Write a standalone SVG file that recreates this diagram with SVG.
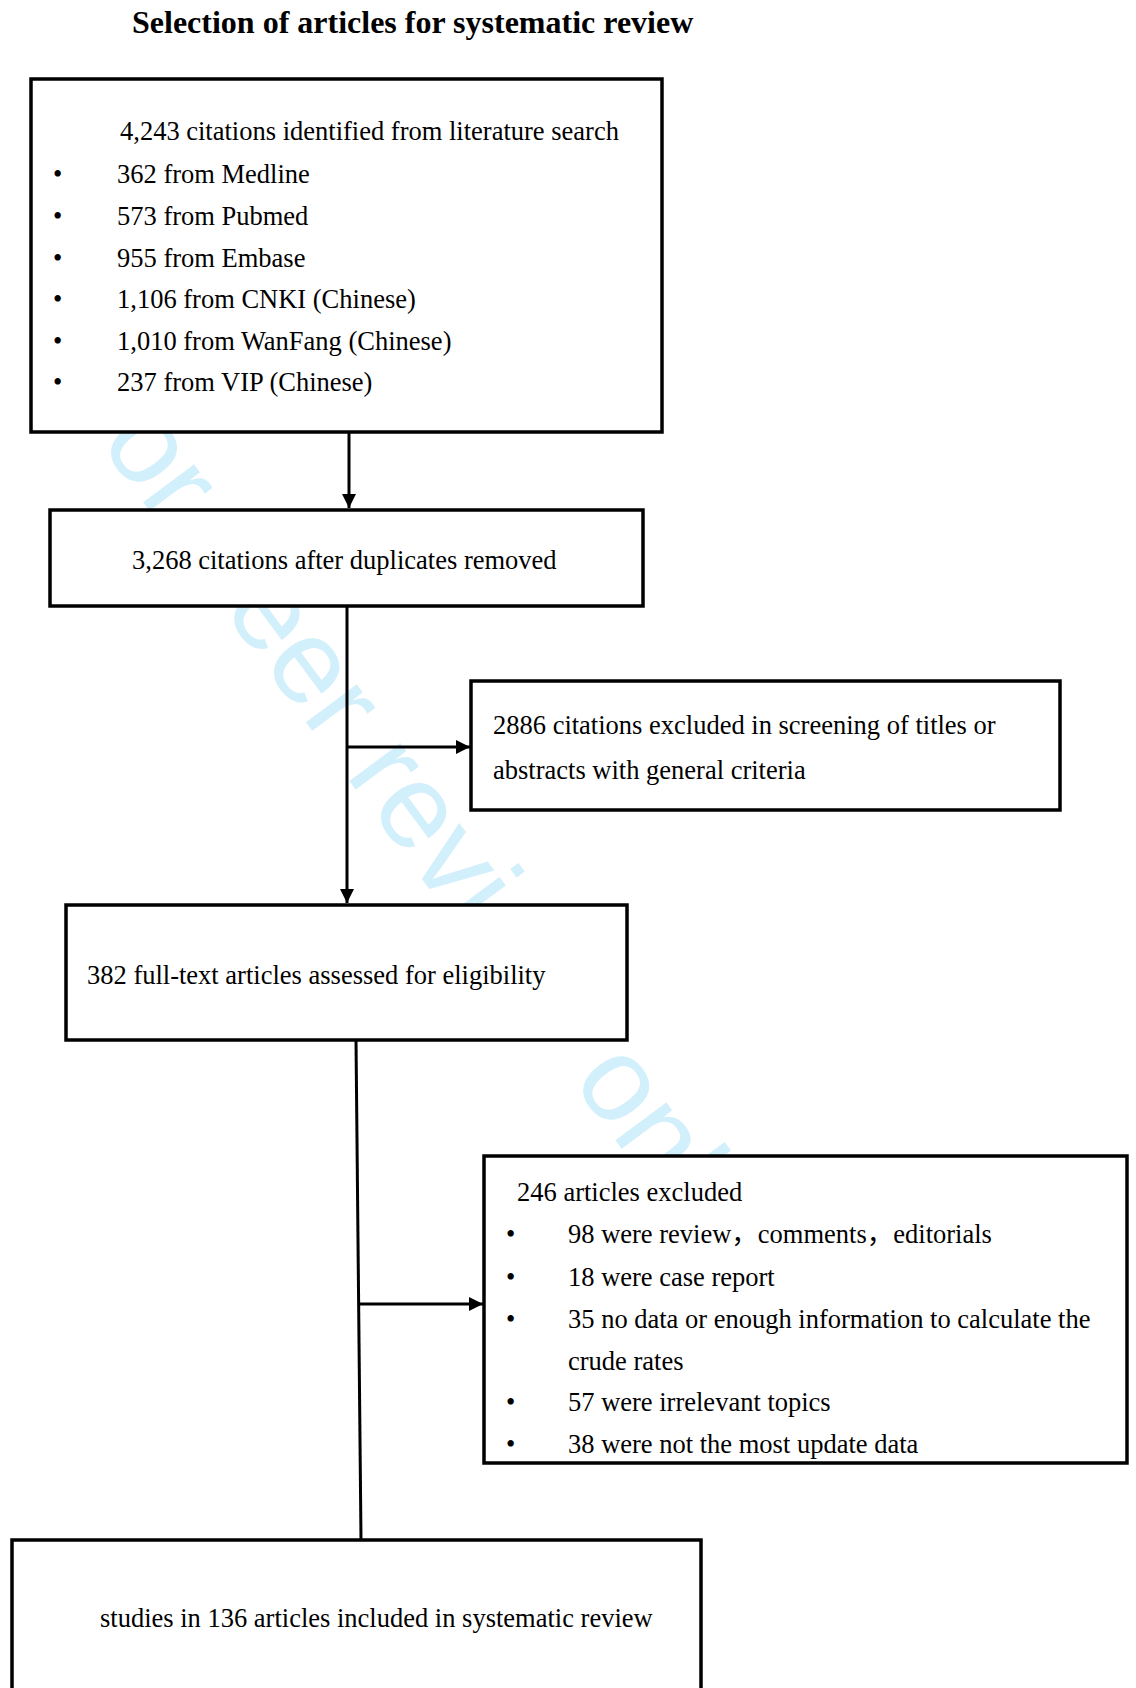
<svg xmlns="http://www.w3.org/2000/svg" width="1136" height="1688" viewBox="0 0 1136 1688">
  <style>
    .box { fill: #ffffff; stroke: #000000; stroke-width: 3.5; }
    .t { font-family: "Liberation Serif", "Noto Sans CJK SC", serif; font-size: 26.5px; fill: #000000; }
    .title { font-family: "Liberation Serif", serif; font-size: 32px; font-weight: bold; fill: #000000; }
    .conn { fill: none; stroke: #000000; stroke-width: 3; }
    .wm { font-family: "Liberation Sans", Arial, sans-serif; font-size: 120px; fill: #d2effc; }
  </style>
  <defs>
    <marker id="arrow" markerUnits="userSpaceOnUse" markerWidth="15" markerHeight="15" refX="14" refY="7" orient="auto">
      <path d="M0,0 L14,7 L0,14 z" fill="#000000"/>
    </marker>
  </defs>
  <rect x="0" y="0" width="1136" height="1688" fill="#ffffff"/>
  <text class="wm" transform="translate(55,383) rotate(53.5)">For peer review only</text>

  <text class="title" x="132" y="33">Selection of articles for systematic review</text>

  <g id="connectors">
    <line class="conn" x1="349" y1="432" x2="349" y2="508" marker-end="url(#arrow)"/>
    <line class="conn" x1="347" y1="606" x2="347" y2="903" marker-end="url(#arrow)"/>
    <line class="conn" x1="347" y1="747" x2="470" y2="747" marker-end="url(#arrow)"/>
    <line class="conn" x1="356" y1="1040" x2="361" y2="1540"/>
    <line class="conn" x1="359" y1="1304" x2="483" y2="1304" marker-end="url(#arrow)"/>
  </g>

  <g id="search">
    <rect class="box" x="31" y="79" width="631" height="353"/>
    <text class="t" x="120" y="140">4,243 citations identified from literature search</text>
    <text class="t" x="53" y="183">•</text><text class="t" x="117" y="183">362 from Medline</text>
    <text class="t" x="53" y="225">•</text><text class="t" x="117" y="225">573 from Pubmed</text>
    <text class="t" x="53" y="267">•</text><text class="t" x="117" y="267">955 from Embase</text>
    <text class="t" x="53" y="308">•</text><text class="t" x="117" y="308">1,106 from CNKI (Chinese)</text>
    <text class="t" x="53" y="350">•</text><text class="t" x="117" y="350">1,010 from WanFang (Chinese)</text>
    <text class="t" x="53" y="391">•</text><text class="t" x="117" y="391">237 from VIP (Chinese)</text>
  </g>

  <g id="dedup">
    <rect class="box" x="50" y="510" width="593" height="96"/>
    <text class="t" x="132" y="569">3,268 citations after duplicates removed</text>
  </g>

  <g id="excluded-screening">
    <rect class="box" x="471" y="681" width="589" height="129"/>
    <text class="t" x="493" y="734">2886 citations excluded in screening of titles or</text>
    <text class="t" x="493" y="779">abstracts with general criteria</text>
  </g>

  <g id="fulltext">
    <rect class="box" x="66" y="905" width="561" height="135"/>
    <text class="t" x="87" y="984">382 full-text articles assessed for eligibility</text>
  </g>

  <g id="excluded-fulltext">
    <rect class="box" x="484" y="1156" width="643" height="307"/>
    <text class="t" x="517" y="1201">246 articles excluded</text>
    <text class="t" x="506" y="1243">•</text><text class="t" x="568" y="1243">98 were review，comments，editorials</text>
    <text class="t" x="506" y="1286">•</text><text class="t" x="568" y="1286">18 were case report</text>
    <text class="t" x="506" y="1328">•</text><text class="t" x="568" y="1328">35 no data or enough information to calculate the</text>
    <text class="t" x="568" y="1370">crude rates</text>
    <text class="t" x="506" y="1411">•</text><text class="t" x="568" y="1411">57 were irrelevant topics</text>
    <text class="t" x="506" y="1453">•</text><text class="t" x="568" y="1453">38 were not the most update data</text>
  </g>

  <g id="included">
    <rect class="box" x="12" y="1540" width="689" height="170"/>
    <text class="t" x="100" y="1627">studies in 136 articles included in systematic review</text>
  </g>
</svg>
